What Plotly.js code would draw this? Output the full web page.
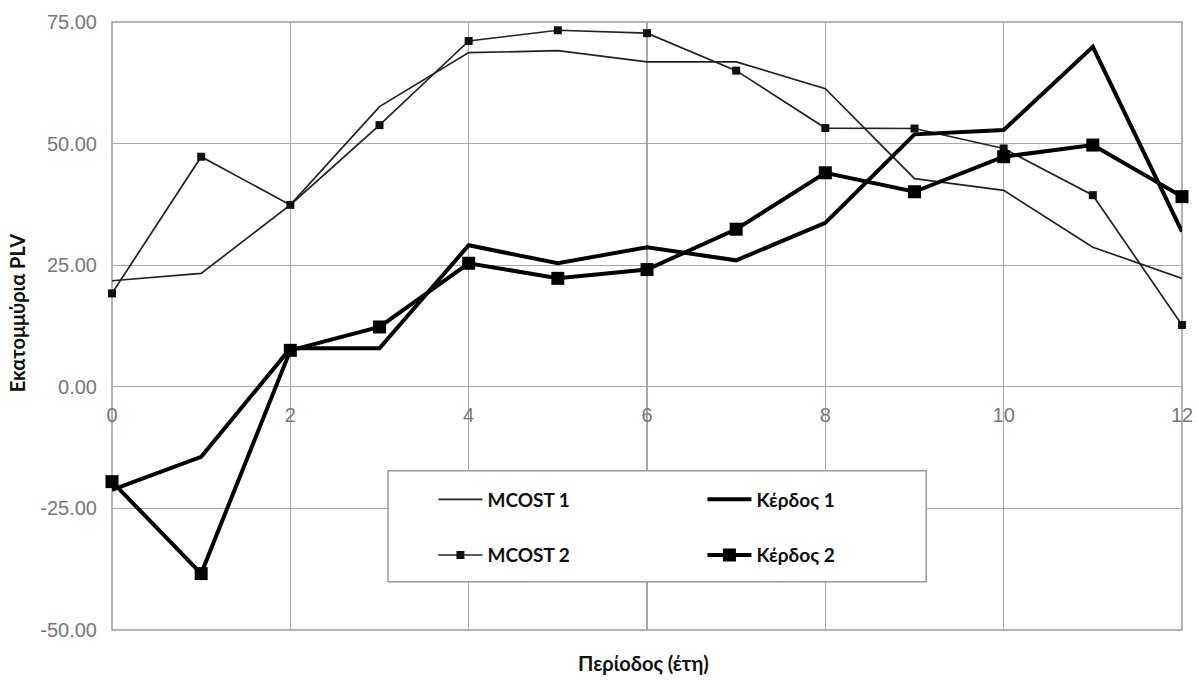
<!DOCTYPE html>
<html>
<head>
<meta charset="utf-8">
<script src="https://cdn.plot.ly/plotly-3.0.1.min.js"></script>
<style>html,body{margin:0;padding:0;background:#fff;}#chart{width:1199px;height:680px;}</style>
</head>
<body>
<div id="chart"></div>
<script>
const years = [0,1,2,3,4,5,6,7,8,9,10,11,12];
const mcost1 = [21.8,23.3,37.4,57.6,68.7,69.1,66.8,66.8,61.3,42.8,40.4,28.7,22.3];
const mcost2 = [19.2,47.3,37.4,53.8,71.1,73.3,72.7,65.0,53.2,53.1,49.0,39.4,12.7];
const kerdos1 = [-21.2,-14.4,7.9,7.9,29.1,25.4,28.7,26.0,33.7,51.9,52.8,69.9,31.9];
const kerdos2 = [-19.5,-38.4,7.5,12.3,25.4,22.3,24.1,32.4,44.0,40.1,47.3,49.7,39.1];
const seriesNames = ['MCOST 1','MCOST 2','Κέρδος 1','Κέρδος 2'];
const yTicks = [-50,-25,0,25,50,75];
const yTickText = ['-50.00','-25.00','0.00','25.00','50.00','75.00'];
const xTicks = [0,2,4,6,8,10,12];
const xTitle = 'Περίοδος (έτη)';
const yTitle = 'Εκατομμύρια PLV';

const boldFont = 'Lato, "Open Sans", sans-serif';
const legendFont = {family:boldFont, size:19, color:'#111', weight:700};
const tickFont = {family:'"Liberation Sans", Arial, sans-serif', size:20, color:'#777'};
const titleFont = {family:boldFont, size:20, color:'#111', weight:700};

const traces = [
  {x:years, y:mcost1, name:seriesNames[0], mode:'lines', line:{color:'#222', width:1.7}, legend:'legend', legendgroup:'a', cliponaxis:false},
  {x:years, y:mcost2, name:seriesNames[1], mode:'lines+markers', line:{color:'#222', width:1.7}, marker:{symbol:'square', size:8, color:'#111'}, legend:'legend', legendgroup:'b', cliponaxis:false},
  {x:years, y:kerdos1, name:seriesNames[2], mode:'lines', line:{color:'#000', width:4}, legend:'legend2', legendgroup:'c', cliponaxis:false},
  {x:years, y:kerdos2, name:seriesNames[3], mode:'lines+markers', line:{color:'#000', width:4}, marker:{symbol:'square', size:13, color:'#000'}, legend:'legend2', legendgroup:'d', cliponaxis:false}
];

const layout = {
  width:1199, height:680,
  margin:{l:112, r:17, t:22, b:50},
  paper_bgcolor:'#fff', plot_bgcolor:'#fff',
  showlegend:true,
  xaxis:{
    range:[0,12], tickvals:xTicks, ticktext:xTicks.map(String),
    showgrid:true, gridcolor:'#a8a8a8', gridwidth:1.3,
    zeroline:false, showline:false, ticks:'',
    anchor:'free', position:0.4,
    tickfont:tickFont,
    ticklabelstandoff:14
  },
  yaxis:{
    range:[-50,75], tickvals:yTicks, ticktext:yTickText,
    showgrid:true, gridcolor:'#a8a8a8', gridwidth:1.3,
    zeroline:false, showline:false, ticks:'',
    tickfont:tickFont,
    ticklabelstandoff:14
  },
  annotations:[
    {text:xTitle, xref:'paper', yref:'paper', x:0.497, y:-0.054, xanchor:'center', yanchor:'middle', showarrow:false,
     font:titleFont},
    {text:yTitle, xref:'paper', yref:'paper', x:0, xshift:-95, y:0.521, xanchor:'center', yanchor:'middle', showarrow:false,
     textangle:-90, font:titleFont}
  ],
  legend:{x:0.3004, y:0.246, xanchor:'left', yanchor:'top', bgcolor:'rgba(0,0,0,0)', borderwidth:0,
    font:legendFont, traceorder:'grouped', tracegroupgap:28, itemwidth:44},
  legend2:{x:0.5518, y:0.246, xanchor:'left', yanchor:'top', bgcolor:'rgba(0,0,0,0)', borderwidth:0,
    font:legendFont, traceorder:'grouped', tracegroupgap:28, itemwidth:44},
  shapes:[
    {type:'rect', xref:'paper', yref:'paper', x0:0.258, x1:0.761, y0:0.0795, y1:0.262,
     fillcolor:'#fff', line:{color:'#9a9a9a', width:1.5}, layer:'above'},
    {type:'rect', xref:'paper', yref:'paper', x0:0, x1:1, y0:0, y1:1,
     line:{color:'#9a9a9a', width:1.5}, layer:'below'}
  ]
};

Plotly.newPlot('chart', traces, layout, {displayModeBar:false, staticPlot:true});
</script>
</body>
</html>
